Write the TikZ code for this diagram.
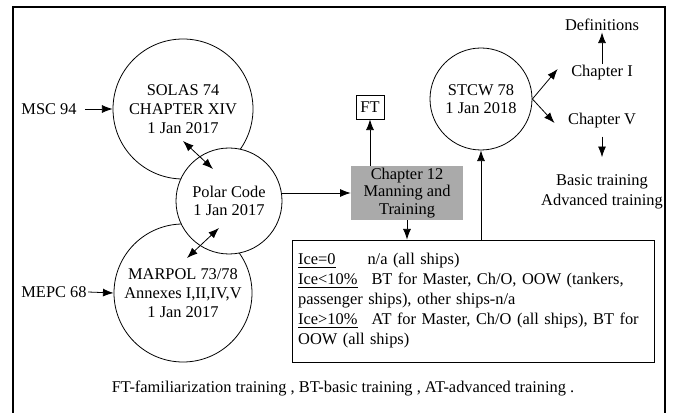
\documentclass[tikz,border=0pt]{standalone}
\usepackage{fontspec}
\setmainfont{Liberation Serif}
\usetikzlibrary{arrows.meta,calc}
\definecolor{chgray}{RGB}{170,170,170}
\begin{document}
\begin{tikzpicture}[x=0.75pt,y=-0.75pt,
  font=\fontsize{12.3}{14}\selectfont,
  arr/.style={-{Latex[length=8pt,width=6pt]},line width=0.6pt},
  darr/.style={{Latex[length=8pt,width=6pt]}-{Latex[length=8pt,width=6pt]},line width=0.6pt},
  circ/.style={draw,circle,line width=0.6pt,inner sep=0pt,align=center,fill=white},
  lbl/.style={inner sep=1pt,align=center}]
\useasboundingbox (0,0) rectangle (674,413);
\draw[line width=1pt] (13,420) -- (13,7) -- (665,7) -- (665,420);
% circles
\node[circ,minimum size=105pt] (solas) at (183,109) {SOLAS 74\\CHAPTER XIV\\1 Jan 2017};
\node[circ,minimum size=103.5pt] (marpol) at (183,293) {MARPOL 73/78\\Annexes I,II,IV,V\\1 Jan 2017};
\node[circ,minimum size=79.5pt] (polar) at (229,201) {Polar Code\\1 Jan 2017};
\node[circ,minimum size=76.5pt] (stcw) at (481,99) {STCW 78\\1 Jan 2018};
% boxes
\node[fill=chgray,minimum width=84pt,minimum height=40.5pt,align=center,inner sep=0pt,font=\fontsize{12.3}{13}\selectfont] (ch12) at (407,193) {Chapter 12\\Manning and\\Training};
\node[draw,line width=0.6pt,minimum width=21pt,minimum height=18pt,inner sep=0pt] (ft) at (370,107) {FT};
\node[draw,line width=0.6pt,minimum height=91.5pt,text width=263pt,inner xsep=4.5pt,inner ysep=0pt,align=left,font=\fontsize{12.3}{15}\selectfont] (tbox) at (473.5,301) {%
\makebox[52pt][l]{\underline{Ice=0}}n/a (all ships)\\
\makebox[55pt][l]{\underline{Ice<10\%}}BT for Master, Ch/O, OOW (tankers,\\
passenger ships), other ships-n/a\\
\makebox[55pt][l]{\underline{Ice>10\%}}AT for Master, Ch/O (all ships), BT for\\
OOW (all ships)};
% labels
\node[lbl] (msc) at (49,109) {MSC 94};
\node[lbl] (mepc) at (54,292) {MEPC 68};
\node[lbl] (defs) at (602,25) {Definitions};
\node[lbl] (ch1) at (602,73) {Chapter I};
\node[lbl] (ch5) at (602,121) {Chapter V};
\node[lbl,font=\fontsize{12.3}{15}\selectfont] (train) at (602,192) {Basic training\\Advanced training};
\node[lbl] (note) at (343,388) {FT-familiarization training , BT-basic training , AT-advanced training .};
% connectors
\coordinate (sp1) at (183,141);
\coordinate (sp2) at (213,169);
\coordinate (mp1) at (187,258);
\coordinate (mp2) at (219,228);
\draw[darr] (sp1) -- (sp2);
\draw[darr] (mp1) -- (mp2);
\draw[arr,shorten <=5pt] (msc.east) -- (solas.west);
\draw[arr] (mepc.east) -- (marpol.west);
\draw[arr] (polar.east |- ch12.west) -- (ch12.west);
\draw[arr] (ch12.north -| ft.south) -- (ft.south);
\draw[arr] (ch12.south) -- (ch12.south |- tbox.north);
\draw[arr] (tbox.north -| stcw.south) -- (stcw.south);
\draw[arr] (stcw.east) -- ($(ch1.west)+(-12,-4)$);
\draw[arr] (stcw.east) -- ($(ch5.west)+(-12,2)$);
\draw[arr] (ch1.north) -- (defs.south);
\draw[arr,shorten <=5pt,shorten >=12pt] (ch5.south) -- (train.north);
\end{tikzpicture}
\end{document}
